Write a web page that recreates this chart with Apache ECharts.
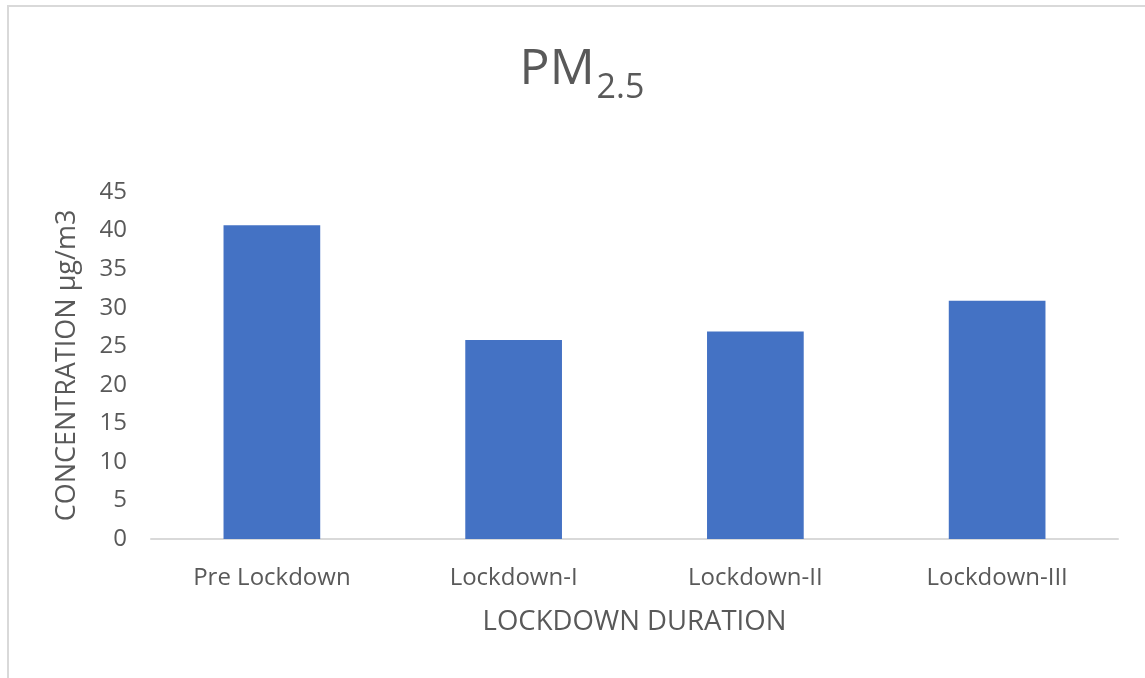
<!DOCTYPE html>
<html>
<head>
<meta charset="utf-8">
<script src="https://cdn.jsdelivr.net/npm/echarts@6/dist/echarts.min.js"></script>
<style>
  html, body { margin: 0; padding: 0; background: #ffffff; }
  #chart { width: 1145px; height: 678px; }
</style>
</head>
<body>
<div id="chart"></div>
<script>
// PM2.5 concentration by lockdown phase
const categories = ['Pre Lockdown', 'Lockdown-I', 'Lockdown-II', 'Lockdown-III'];
const pm25Values = [40.7, 25.8, 26.9, 30.9];
const yTicks = { min: 0, max: 45, interval: 5 };

const textColor = '#595959';
const fontFamily = '"Open Sans", "Liberation Sans", sans-serif';

const chart = echarts.init(document.getElementById('chart'), null, { renderer: 'canvas' });

chart.setOption({
  backgroundColor: '#ffffff',
  animation: false,
  title: {
    text: '{a|PM}{b|2.5}',
    left: 577,
    textAlign: 'center',
    top: 30,
    textStyle: {
      fontWeight: 'normal',
      rich: {
        a: { fontSize: 50, fontWeight: 'normal', color: textColor, fontFamily: fontFamily, verticalAlign: 'bottom', lineHeight: 60 },
        b: { fontSize: 34, fontWeight: 'normal', color: textColor, fontFamily: fontFamily, verticalAlign: 'bottom', padding: [0, 0, -10, 2], lineHeight: 60 }
      }
    }
  },
  graphic: [
    { type: 'line', shape: { x1: 8, y1: 5, x2: 8, y2: 678 }, style: { stroke: '#d9d9d9', lineWidth: 2 } },
    { type: 'line', shape: { x1: 7, y1: 6, x2: 1145, y2: 6 }, style: { stroke: '#d9d9d9', lineWidth: 2 } }
  ],
  grid: { left: 151, right: 27, top: 192, bottom: 139, containLabel: false },
  xAxis: {
    type: 'category',
    data: categories,
    name: 'LOCKDOWN DURATION',
    nameLocation: 'middle',
    nameGap: 69,
    nameTextStyle: { color: textColor, fontSize: 27.5, fontFamily: fontFamily },
    axisLine: { lineStyle: { color: '#d9d9d9', width: 2 } },
    axisTick: { show: false },
    axisLabel: { color: textColor, fontSize: 24, fontFamily: fontFamily, margin: 27 }
  },
  yAxis: {
    type: 'value',
    min: yTicks.min,
    max: yTicks.max,
    interval: yTicks.interval,
    name: 'CONCENTRATION µg/m3',
    nameLocation: 'middle',
    nameGap: 70,
    nameTextStyle: { color: textColor, fontSize: 27, fontFamily: fontFamily },
    axisLine: { show: false },
    axisTick: { show: false },
    splitLine: { show: false },
    axisLabel: { color: textColor, fontSize: 24, fontFamily: fontFamily, margin: 24 }
  },
  series: [{
    type: 'bar',
    data: pm25Values,
    barCategoryGap: '60%',
    itemStyle: { color: '#4472c4' }
  }]
});
</script>
</body>
</html>
